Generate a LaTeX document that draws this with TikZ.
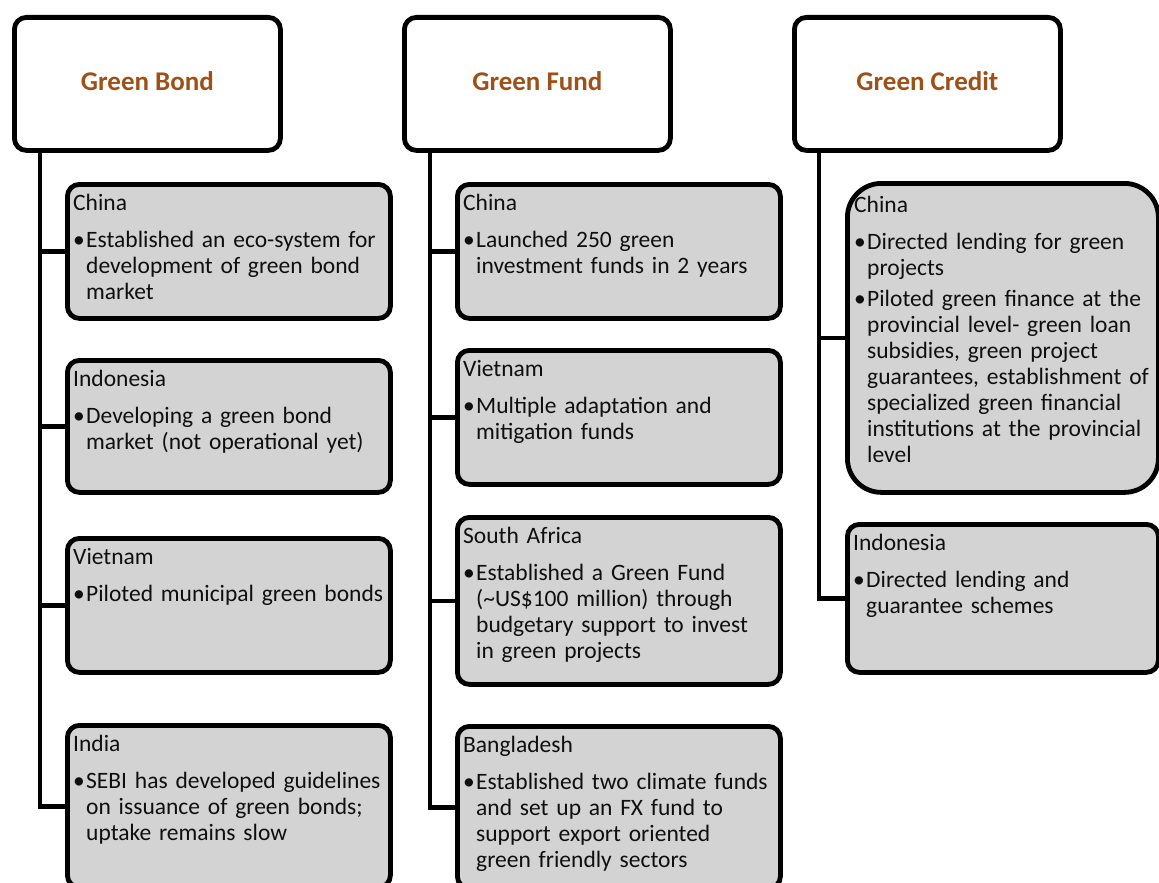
\documentclass[tikz,border=0pt]{standalone}
\usepackage{fontspec}
\setmainfont{Carlito}
\definecolor{hdr}{RGB}{158,80,22}
\definecolor{boxgray}{RGB}{211,211,211}
\definecolor{txt}{RGB}{15,15,15}
\newcommand{\hdline}[1]{\noindent #1\par\vspace{11pt}}
\newcommand{\itm}[1]{\noindent\hangindent=13pt\hangafter=1\makebox[13pt][l]{\textbullet}#1\par}
\newcommand{\itmsep}{\vspace{5pt}}
\tikzset{
  hbox/.style={draw=black, line width=4.8pt, rounded corners=12pt, fill=white,
    anchor=north west, minimum width=266pt, minimum height=133pt},
  htitle/.style={font=\fontsize{27}{32}\selectfont\bfseries, text=hdr, inner sep=0pt},
  cbox/.style={draw=black, line width=4.8pt, rounded corners=12pt, fill=boxgray,
    anchor=north west, minimum width=323pt},
  ctext/.style={anchor=north west, inner sep=0pt, text width=340pt, align=left,
    font=\fontsize{23.5}{26}\selectfont, text=txt},
  conn/.style={draw=black, line width=4.8pt}
}
\begin{document}
\begin{tikzpicture}[x=1pt,y=-1pt]
\path[use as bounding box] (0,0) rectangle (1159,883);
\clip (0,0) rectangle (1159,883);

% headers
\node[hbox] (h1) at (12,15) {};
\node[hbox] (h2) at (402,15) {};
\node[hbox] (h3) at (792,15) {};
\node[htitle] (h1t) at ([yshift=3pt]h1.center) {Green Bond};
\node[htitle] (h2t) at ([yshift=3pt]h2.center) {Green Fund};
\node[htitle] (h3t) at ([yshift=3pt]h3.center) {Green Credit};

% column 1 boxes
\node[cbox, minimum height=134pt] (b11) at (65,182) {};
\node[cbox, minimum height=132pt] (b12) at (65,358) {};
\node[cbox, minimum height=134pt] (b13) at (65,536) {};
\node[cbox, minimum height=162pt] (b14) at (65,723) {};

% column 2 boxes
\node[cbox, minimum height=134pt] (b21) at (455,182) {};
\node[cbox, minimum height=134pt] (b22) at (455,348) {};
\node[cbox, minimum height=167pt] (b23) at (455,515) {};
\node[cbox, minimum height=162pt] (b24) at (455,724) {};

% column 3 boxes
\node[cbox, minimum width=311pt, minimum height=309pt, rounded corners=34pt] (b31) at (845,181) {};
\node[cbox, minimum width=311pt, minimum height=148pt] (b32) at (845,522) {};

% connectors
\path (h1.south west) ++(28,0) coordinate (v1);
\path (h2.south west) ++(28,0) coordinate (v2);
\path (h3.south west) ++(27,0) coordinate (v3);
\draw[conn] (v1) |- (b14.west);
\draw[conn] (v1 |- b11.west) -- (b11.west);
\draw[conn] (v1 |- b12.west) -- (b12.west);
\draw[conn] (v1 |- b13.west) -- (b13.west);
\draw[conn] (v2) |- (b24.west);
\draw[conn] (v2 |- b21.west) -- (b21.west);
\draw[conn] (v2 |- b22.west) -- (b22.west);
\draw[conn] (v2 |- b23.west) -- (b23.west);
\draw[conn] (v3) |- (b32.west);
\draw[conn] (v3 |- b31.west) -- (b31.west);

% texts column 1
\node[ctext] (t11) at ([shift={(8,12)}]b11.north west) {\hdline{China}\itm{Established an eco-system for\newline development of green bond\newline market}};
\node[ctext] (t12) at ([shift={(8,12)}]b12.north west) {\hdline{Indonesia}\itm{Developing a green bond\newline market (not operational yet)}};
\node[ctext] (t13) at ([shift={(8,12)}]b13.north west) {\hdline{Vietnam}\itm{Piloted municipal green bonds}};
\node[ctext] (t14) at ([shift={(8,12)}]b14.north west) {\hdline{India}\itm{SEBI has developed guidelines\newline on issuance of green bonds;\newline uptake remains slow}};

% texts column 2
\node[ctext] (t21) at ([shift={(8,12)}]b21.north west) {\hdline{China}\itm{Launched 250 green\newline investment funds in 2 years}};
\node[ctext] (t22) at ([shift={(8,12)}]b22.north west) {\hdline{Vietnam}\itm{Multiple adaptation and\newline mitigation funds}};
\node[ctext] (t23) at ([shift={(8,12)}]b23.north west) {\hdline{South Africa}\itm{Established a Green Fund\newline (\textasciitilde US\$100 million) through\newline budgetary support to invest\newline in green projects}};
\node[ctext] (t24) at ([shift={(8,12)}]b24.north west) {\hdline{Bangladesh}\itm{Established two climate funds\newline and set up an FX fund to\newline support export oriented\newline green friendly sectors}};

% texts column 3
\node[ctext] (t31) at ([shift={(9,15)}]b31.north west) {\hdline{China}\itm{Directed lending for green\newline projects}\itmsep\itm{Piloted green finance at the\newline provincial level- green loan\newline subsidies, green project\newline guarantees, establishment of\newline specialized green financial\newline institutions at the provincial\newline level}};
\node[ctext] (t32) at ([shift={(8,12)}]b32.north west) {\hdline{Indonesia}\itm{Directed lending and\newline guarantee schemes}};
\end{tikzpicture}
\end{document}
